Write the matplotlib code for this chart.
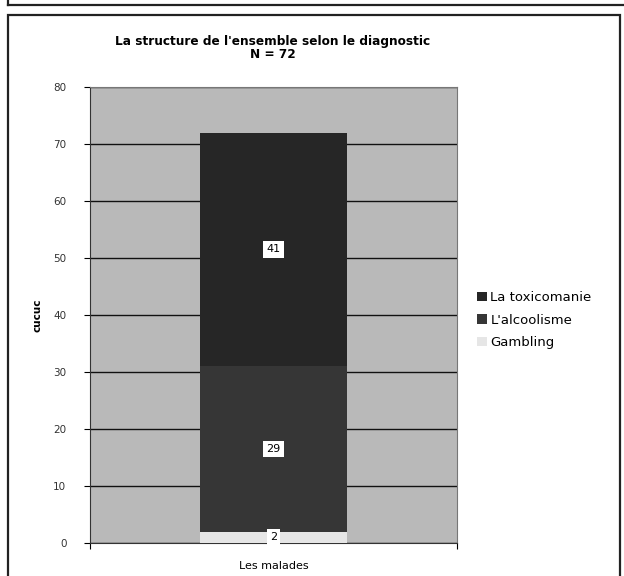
import matplotlib
matplotlib.use("Agg")
import matplotlib.pyplot as plt
from matplotlib.patches import Rectangle
from matplotlib.lines import Line2D

categories = ["Les malades"]
series_names = ["Gambling", "L'alcoolisme", "La toxicomanie"]
series_values = [[2], [29], [41]]
series_colors = ["#e6e6e6", "#363636", "#262626"]
yticks = [0, 10, 20, 30, 40, 50, 60, 70, 80]
title = "La structure de l'ensemble selon le diagnostic\nN = 72"
ylabel = "cucuc"

plt.rcParams['font.family'] = ['DejaVu Sans']
fig = plt.figure(figsize=(6.24, 5.76), dpi=100)
fig.patch.set_facecolor("white")

# outer frames
fig.add_artist(Rectangle((8/624, -0.01), 612/624, (576-15)/576 + 0.01, transform=fig.transFigure,
                         fill=False, edgecolor="#222222", linewidth=1.6))
fig.add_artist(Line2D([8/624, 1.0], [1-5/576, 1-5/576], transform=fig.transFigure,
                      color="#222222", linewidth=1.6))
fig.add_artist(Line2D([8/624, 8/624], [1-5/576, 1.0], transform=fig.transFigure,
                      color="#222222", linewidth=1.6))

ax = fig.add_axes([90/624, 33/576, 367/624, 456/576])
ax.set_facecolor("#b9b9b9")

x = list(range(len(categories)))
bottom = [0] * len(categories)
handles = {}
for name, vals, col in zip(series_names, series_values, series_colors):
    bars = ax.bar(x, vals, width=0.4, bottom=bottom, color=col, edgecolor="none", zorder=3)
    handles[name] = bars
    for xi, v, b in zip(x, vals, bottom):
        ax.text(xi, b + v / 2, str(v), ha="center", va="center", fontsize=8, zorder=5,
                bbox=dict(boxstyle="square,pad=0.3", facecolor="white", edgecolor="none"))
    bottom = [b + v for b, v in zip(bottom, vals)]

ax.set_xlim(-0.5, 0.5)
ax.set_ylim(0, 80)
ax.set_yticks(yticks)
ax.set_yticklabels([str(t) for t in yticks], fontsize=7.5, color="#333333")
ax.yaxis.grid(True, color="#111111", linewidth=1.0, zorder=2)
ax.set_axisbelow(True)
ax.set_xticks(x)
ax.set_xticklabels(categories, fontsize=8)
ax.tick_params(axis="x", length=0, pad=13)
ax.tick_params(axis="y", length=4, width=0.8, pad=13)
ax.set_xticks([-0.5, 0.5], minor=True)
ax.tick_params(axis="x", which="minor", length=4, width=0.8)
for s in ["top", "right"]:
    ax.spines[s].set_color("#777777")
    ax.spines[s].set_linewidth(0.8)
ax.spines["left"].set_color("#333333")
ax.spines["bottom"].set_color("#333333")

ax.set_ylabel(ylabel, fontsize=7.5, fontweight="bold", labelpad=8)
fig.text(273/624, 1 - 48/576, title, ha="center", va="center", fontsize=8.7,
         fontweight="bold", linespacing=1.1)

order = ["La toxicomanie", "L'alcoolisme", "Gambling"]
leg = fig.legend([handles[n] for n in order], order, loc="upper left",
                 bbox_to_anchor=(472/624, 1 - 286/576), frameon=False, fontsize=9.5,
                 handlelength=0.7, handleheight=0.7, handletextpad=0.3, labelspacing=0.7,
                 borderaxespad=0)

fig.savefig("out.png", dpi=100, facecolor="white")
